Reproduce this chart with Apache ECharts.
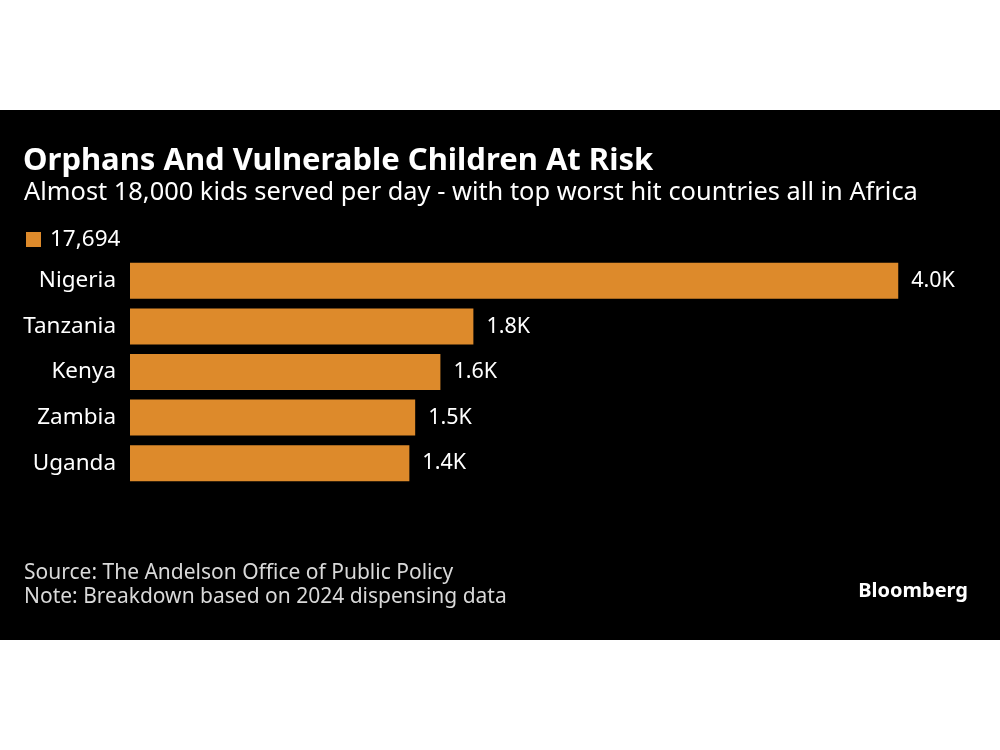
<!DOCTYPE html>
<html>
<head>
<meta charset="utf-8">
<script src="https://cdn.jsdelivr.net/npm/echarts@6/dist/echarts.min.js"></script>
<style>
html,body{margin:0;padding:0;background:#fff;}
#c{width:1000px;height:750px;}
</style>
</head>
<body>
<div id="c"></div>
<script>
const categories = ["Nigeria", "Tanzania", "Kenya", "Zambia", "Uganda"];
const values = [3960, 1770, 1600, 1470, 1440];
const seriesName = "17,694";
const titleText = "Orphans And Vulnerable Children At Risk";
const subtitleText = "Almost 18,000 kids served per day - with top worst hit countries all in Africa";
const sourceText = "Source: The Andelson Office of Public Policy";
const noteText = "Note: Breakdown based on 2024 dispensing data";

const barColor = "#DD8A2B";
const chart = echarts.init(document.getElementById('c'), null, {renderer: 'canvas'});
const font = "'Noto Sans', sans-serif";

chart.setOption({
  backgroundColor: '#ffffff',
  animation: false,
  graphic: [
    {type: 'rect', z: -10, shape: {x: 0, y: 110, width: 1000, height: 530}, style: {fill: '#000000'}},
    {type: 'text', left: 23, top: 146, style: {text: titleText, fill: '#ffffff', font: "bold 31px 'Noto Sans', sans-serif"}},
    {type: 'text', left: 24, top: 180, style: {text: subtitleText, fill: '#ffffff', font: "25.4px 'Noto Sans', sans-serif"}},
    {type: 'text', left: 24, top: 561, style: {text: sourceText + "\n" + noteText, fill: '#d9d9d9', font: "21px 'Noto Sans', sans-serif", lineHeight: 24}},
    {type: 'text', right: 32, top: 581, style: {text: 'Bloomberg', fill: '#ffffff', font: "bold 20px 'Noto Sans', sans-serif"}}
  ],
  legend: {
    left: 26, top: 228, padding: 0,
    icon: 'rect', itemWidth: 15, itemHeight: 15, itemGap: 10,
    textStyle: {color: '#ffffff', fontSize: 22.5, fontFamily: font, padding: [0, 0, 0, 4]},
    data: [seriesName]
  },
  grid: {left: 130, right: 94, top: 258, bottom: 264, containLabel: false},
  xAxis: {
    type: 'value', min: 0, max: 4000,
    show: false
  },
  yAxis: {
    type: 'category', inverse: true, data: categories,
    axisLine: {show: false}, axisTick: {show: false}, splitLine: {show: false},
    axisLabel: {color: '#ffffff', fontSize: 22.5, fontFamily: font, margin: 14}
  },
  series: [{
    name: seriesName, type: 'bar', data: values,
    barCategoryGap: '21%',
    itemStyle: {color: barColor},
    label: {
      show: true, position: 'right', distance: 13, color: '#ffffff',
      fontSize: 21.5, fontFamily: font,
      formatter: p => (p.value / 1000).toFixed(1) + 'K'
    }
  }]
});
</script>
</body>
</html>
